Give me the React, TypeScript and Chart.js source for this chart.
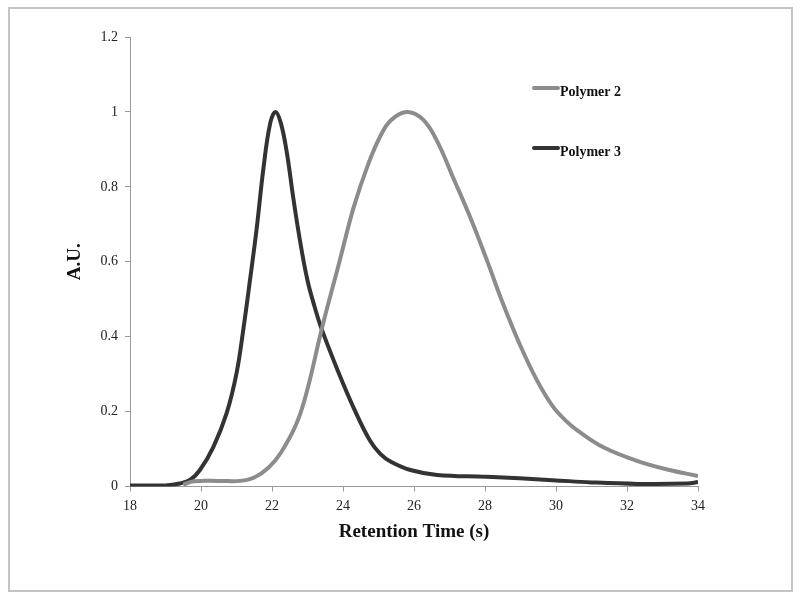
import React, { useEffect, useRef } from "react";
import { Chart, registerables } from "chart.js";

Chart.register(...registerables);

// Retention time (s) and normalized signal (A.U.)
const polymer2Time = [19.5, 19.8, 20.5, 21.1, 21.5, 21.9, 22.25, 22.7, 23.0, 23.4, 23.9, 24.3, 24.7, 25.05, 25.35, 25.8, 26.25, 26.65, 27.1, 27.6, 28.05, 28.5, 29.0, 29.45, 29.9, 30.25, 30.6, 31.35, 32.3, 33.2, 34];
const polymer2Signal = [0.005, 0.014, 0.015, 0.015, 0.024, 0.05, 0.09, 0.17, 0.26, 0.42, 0.6, 0.745, 0.858, 0.935, 0.978, 1.0, 0.98, 0.922, 0.825, 0.715, 0.605, 0.49, 0.375, 0.286, 0.215, 0.178, 0.15, 0.104, 0.068, 0.044, 0.028];

const polymer3Time = [18, 19.0, 19.4, 19.7, 19.97, 20.35, 20.72, 21.0, 21.19, 21.38, 21.57, 21.76, 21.95, 22.1, 22.25, 22.42, 22.6, 22.8, 23.0, 23.2, 23.4, 23.85, 24.3, 24.75, 25.05, 25.35, 25.9, 26.65, 28.05, 29.9, 31.0, 32.3, 33.7, 34];
const polymer3Signal = [0.003, 0.003, 0.008, 0.018, 0.044, 0.106, 0.195, 0.302, 0.418, 0.551, 0.69, 0.85, 0.97, 1.0, 0.97, 0.89, 0.77, 0.65, 0.55, 0.48, 0.42, 0.31, 0.21, 0.124, 0.087, 0.066, 0.044, 0.031, 0.026, 0.017, 0.011, 0.007, 0.008, 0.012];

const seriesNames = ["Polymer 2", "Polymer 3"];
const seriesColors = ["#8c8c8c", "#333333"];
const xTitle = "Retention Time (s)";
const yTitle = "A.U.";

const SERIF = "'Liberation Serif', 'Times New Roman', serif";

const legendPlugin = {
  id: "inlineLegend",
  afterDatasetsDraw(chart: any) {
    const ctx = chart.ctx;
    const rows = [
      { y: 88, ty: 92 },
      { y: 148, ty: 152 },
    ];
    ctx.save();
    seriesNames.forEach((name, i) => {
      ctx.strokeStyle = seriesColors[i];
      ctx.lineWidth = 4;
      ctx.lineCap = "round";
      ctx.beginPath();
      ctx.moveTo(534, rows[i].y);
      ctx.lineTo(558, rows[i].y);
      ctx.stroke();
      ctx.fillStyle = "#111";
      ctx.font = `bold 14px ${SERIF}`;
      ctx.textBaseline = "middle";
      ctx.textAlign = "left";
      ctx.fillText(name, 560, rows[i].ty);
    });
    ctx.restore();
  },
};

export default function App() {
  const canvasRef = useRef<HTMLCanvasElement | null>(null);

  useEffect(() => {
    if (!canvasRef.current) return;
    const chart = new Chart(canvasRef.current, {
      type: "line",
      data: {
        datasets: [
          {
            label: seriesNames[0],
            data: polymer2Time.map((t, i) => ({ x: t, y: polymer2Signal[i] })),
            borderColor: seriesColors[0],
            borderWidth: 4,
            pointRadius: 0,
            tension: 0.4,
            fill: false,
          },
          {
            label: seriesNames[1],
            data: polymer3Time.map((t, i) => ({ x: t, y: polymer3Signal[i] })),
            borderColor: seriesColors[1],
            borderWidth: 4,
            pointRadius: 0,
            tension: 0.4,
            fill: false,
          },
        ],
      },
      options: {
        responsive: false,
        animation: false,
        layout: { padding: { left: 0, top: 37, right: 102, bottom: 0 } },
        plugins: {
          legend: { display: false },
          tooltip: { enabled: false },
        },
        scales: {
          x: {
            type: "linear",
            min: 18,
            max: 34,
            afterFit: (s: any) => {
              s.height = 113.5;
            },
            ticks: {
              stepSize: 2,
              color: "#222",
              font: { family: SERIF, size: 14 },
              padding: 6,
            },
            grid: {
              drawOnChartArea: false,
              drawTicks: true,
              tickLength: 5,
              color: "#999",
            },
            border: { display: true, color: "#999", width: 1 },
            title: {
              display: true,
              text: xTitle,
              color: "#111",
              font: { family: SERIF, size: 19, weight: "bold" },
              padding: { top: 0, bottom: 57 },
            },
          },
          y: {
            type: "linear",
            min: 0,
            max: 1.2,
            afterFit: (s: any) => {
              s.width = 130;
            },
            ticks: {
              stepSize: 0.2,
              color: "#222",
              font: { family: SERIF, size: 14 },
              padding: 7,
              callback: (v: any) => String(Number(Number(v).toFixed(1))),
            },
            grid: {
              drawOnChartArea: false,
              drawTicks: true,
              tickLength: 5,
              color: "#999",
            },
            border: { display: true, color: "#999", width: 1 },
            title: {
              display: true,
              text: yTitle,
              color: "#111",
              font: { family: SERIF, size: 19, weight: "bold" },
              padding: { top: 64, bottom: 0 },
            },
          },
        },
      },
      plugins: [legendPlugin],
    } as any);
    return () => chart.destroy();
  }, []);

  return (
    <div style={{ position: "fixed", left: 0, top: 0, width: 800, height: 600, background: "#fff" }}>
      <canvas ref={canvasRef} width={800} height={600} style={{ position: "absolute", left: 0, top: 0 }} />
      <div
        style={{
          position: "absolute",
          left: 8,
          top: 7,
          width: 785,
          height: 585,
          border: "2px solid #c4c4c4",
          boxSizing: "border-box",
          pointerEvents: "none",
        }}
      />
    </div>
  );
}
